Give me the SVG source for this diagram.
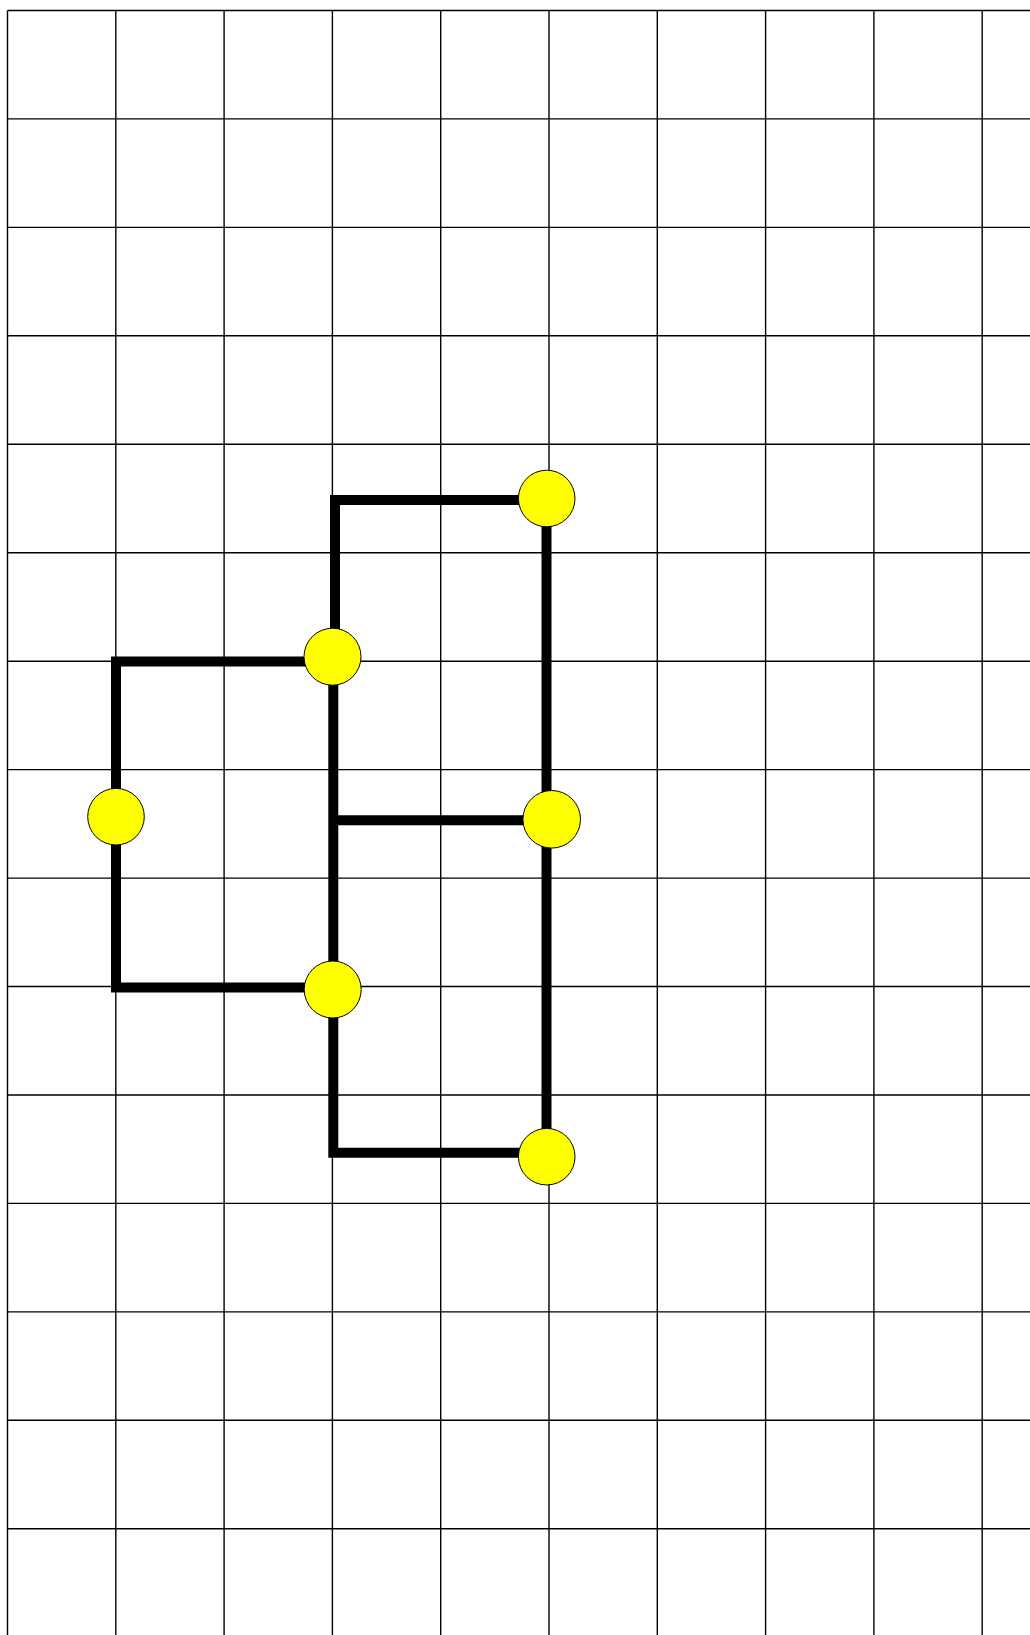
<svg xmlns="http://www.w3.org/2000/svg" width="1030" height="1635" viewBox="0 0 1030 1635">
<style>
.grid line{stroke:#000;stroke-width:1.4}
.conn path{fill:none;stroke:#000;stroke-width:10;stroke-linejoin:miter;stroke-linecap:butt}
.node circle{fill:#ffff00;stroke:#000;stroke-width:1}
</style>
<rect x="0" y="0" width="1030" height="1635" fill="#fff"/>
<g class="grid">
<line x1="7.5" y1="10.5" x2="7.5" y2="1635"/>
<line x1="115.8" y1="10.5" x2="115.8" y2="1635"/>
<line x1="224.1" y1="10.5" x2="224.1" y2="1635"/>
<line x1="332.4" y1="10.5" x2="332.4" y2="1635"/>
<line x1="440.7" y1="10.5" x2="440.7" y2="1635"/>
<line x1="549" y1="10.5" x2="549" y2="1635"/>
<line x1="657.3" y1="10.5" x2="657.3" y2="1635"/>
<line x1="765.6" y1="10.5" x2="765.6" y2="1635"/>
<line x1="873.9" y1="10.5" x2="873.9" y2="1635"/>
<line x1="982.2" y1="10.5" x2="982.2" y2="1635"/>
<line x1="7.5" y1="10.5" x2="1030" y2="10.5"/>
<line x1="7.5" y1="118.9" x2="1030" y2="118.9"/>
<line x1="7.5" y1="227.4" x2="1030" y2="227.4"/>
<line x1="7.5" y1="335.8" x2="1030" y2="335.8"/>
<line x1="7.5" y1="444.3" x2="1030" y2="444.3"/>
<line x1="7.5" y1="552.7" x2="1030" y2="552.7"/>
<line x1="7.5" y1="661.2" x2="1030" y2="661.2"/>
<line x1="7.5" y1="769.6" x2="1030" y2="769.6"/>
<line x1="7.5" y1="878.1" x2="1030" y2="878.1"/>
<line x1="7.5" y1="986.5" x2="1030" y2="986.5"/>
<line x1="7.5" y1="1095" x2="1030" y2="1095"/>
<line x1="7.5" y1="1203.4" x2="1030" y2="1203.4"/>
<line x1="7.5" y1="1311.9" x2="1030" y2="1311.9"/>
<line x1="7.5" y1="1420.3" x2="1030" y2="1420.3"/>
<line x1="7.5" y1="1528.8" x2="1030" y2="1528.8"/>
</g>
<g id="connectors" class="conn">
<path d="M546.5,500 H335 V657"/>
<path d="M332.5,661.5 H116 V817"/>
<path d="M116,817 V987.5 H333"/>
<path d="M333.3,657 V989"/>
<path d="M333.3,820.3 H551"/>
<path d="M546.5,498.5 V819.5"/>
<path d="M546.5,819.5 V1156.5"/>
<path d="M333.3,989 V1152.7 H546.5"/>
</g>
<g id="node-a" class="node"><circle cx="546.7" cy="498.5" r="28.3"/></g>
<g id="node-b" class="node"><circle cx="332.5" cy="656.7" r="28.5"/></g>
<g id="node-c" class="node"><circle cx="116" cy="816.7" r="28.3"/></g>
<g id="node-d" class="node"><circle cx="551.7" cy="819.3" r="28.8"/></g>
<g id="node-e" class="node"><circle cx="332.7" cy="989.5" r="28.5"/></g>
<g id="node-f" class="node"><circle cx="546.7" cy="1156.7" r="28.3"/></g>
</svg>
